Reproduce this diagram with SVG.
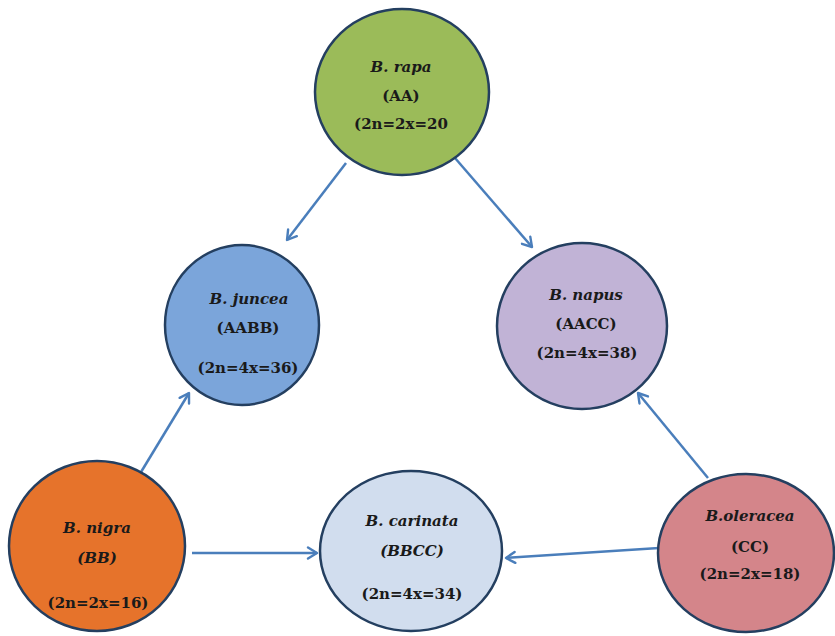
<svg xmlns="http://www.w3.org/2000/svg" width="835" height="636" viewBox="0 0 835 636">
  <style>
    .node ellipse { stroke: #243f60; stroke-width: 2.5; }
    .node text { font-family: "DejaVu Serif", "Liberation Serif", serif; font-weight: bold; font-size: 15px; fill: #1a1a1a; text-anchor: middle; }
    .node text.it { font-style: italic; }
    .edge { stroke: #4a7ebb; stroke-width: 2.5; fill: none; marker-end: url(#arrow); }
  </style>
  <defs>
    <marker id="arrow" viewBox="0 0 14 14" refX="12" refY="7" markerWidth="14" markerHeight="14" markerUnits="userSpaceOnUse" orient="auto">
      <path d="M3,1.5 L12,7 L3,12.5" fill="none" stroke="#4a7ebb" stroke-width="2.4" stroke-linecap="round" stroke-linejoin="round"/>
    </marker>
  </defs>
  <rect width="835" height="636" fill="#ffffff"/>

  <g id="connectors">
    <line class="edge" x1="346" y1="163" x2="287" y2="240"/>
    <line class="edge" x1="455" y1="158" x2="532" y2="247"/>
    <line class="edge" x1="138" y1="477" x2="189" y2="393"/>
    <line class="edge" x1="192" y1="553" x2="317" y2="553"/>
    <line class="edge" x1="659" y1="548" x2="506" y2="558"/>
    <line class="edge" x1="708" y1="478" x2="638" y2="393"/>
  </g>

  <g id="b-rapa" class="node">
    <ellipse cx="402" cy="92" rx="87" ry="83" fill="#9bbb59"/>
    <text x="401" y="72" class="it">B. rapa</text>
    <text x="401" y="101">(AA)</text>
    <text x="401" y="129">(2n=2x=20</text>
  </g>

  <g id="b-juncea" class="node">
    <ellipse cx="242" cy="325" rx="77" ry="80" fill="#7ba5da"/>
    <text x="249" y="304" class="it">B. juncea</text>
    <text x="248" y="333">(AABB)</text>
    <text x="248" y="373">(2n=4x=36)</text>
  </g>

  <g id="b-napus" class="node">
    <ellipse cx="582" cy="326" rx="85" ry="83" fill="#c1b3d6"/>
    <text x="586" y="300" class="it">B. napus</text>
    <text x="586" y="329">(AACC)</text>
    <text x="587" y="358">(2n=4x=38)</text>
  </g>

  <g id="b-nigra" class="node">
    <ellipse cx="97" cy="546" rx="88" ry="85" fill="#e6732b"/>
    <text x="97" y="533" class="it">B. nigra</text>
    <text x="97" y="563" class="it">(BB)</text>
    <text x="98" y="608">(2n=2x=16)</text>
  </g>

  <g id="b-carinata" class="node">
    <ellipse cx="411" cy="551" rx="91" ry="80" fill="#d1ddee"/>
    <text x="412" y="526" class="it">B. carinata</text>
    <text x="412" y="556" class="it">(BBCC)</text>
    <text x="412" y="599">(2n=4x=34)</text>
  </g>

  <g id="b-oleracea" class="node">
    <ellipse cx="746" cy="553" rx="88" ry="79" fill="#d4858a"/>
    <text x="750" y="521" class="it">B.oleracea</text>
    <text x="750" y="552">(CC)</text>
    <text x="750" y="579">(2n=2x=18)</text>
  </g>
</svg>
